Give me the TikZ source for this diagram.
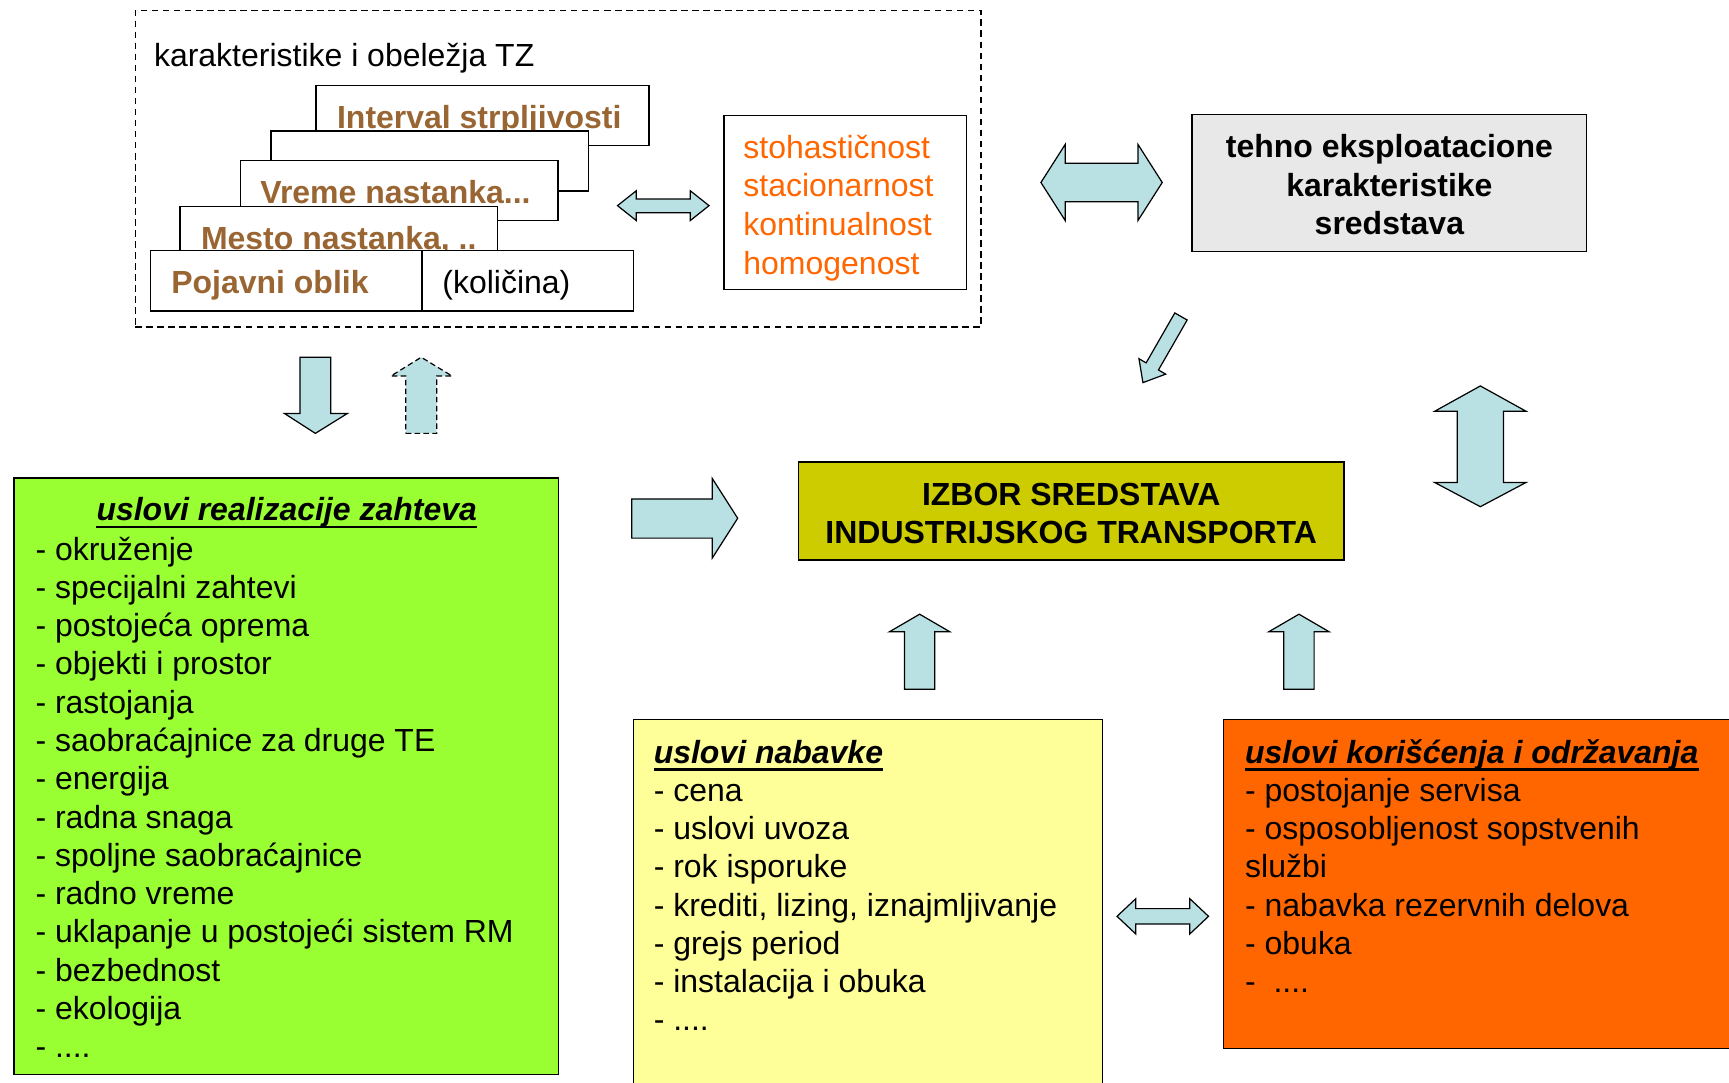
\documentclass[tikz,border=0pt]{standalone}
\usepackage{fontspec}
\setmainfont{Liberation Sans}
\definecolor{ArrowFill}{HTML}{B9E0E3}
\definecolor{ZahtevGreen}{HTML}{99FF33}
\definecolor{NabavkaYellow}{HTML}{FFFF99}
\definecolor{OdrzOrange}{HTML}{FF6600}
\definecolor{IzborOlive}{HTML}{CCCC00}
\definecolor{TehnoGray}{HTML}{E8E8E8}
\definecolor{TzBrown}{HTML}{996633}
\newcommand\diagfont{\fontsize{29}{34.7}\selectfont}
\newcommand\fourdots{....}

\begin{document}
\begin{tikzpicture}[x=1pt,y=-1pt,font=\diagfont,
  box/.style={draw=black,line width=1.3pt,inner sep=0pt,anchor=north west},
  stackbox/.style={box,fill=white,minimum height=54.5pt},
  stacklabel/.style={anchor=west,inner sep=0pt,text height=20.8pt,text depth=0pt,
                     font=\diagfont\bfseries,text=TzBrown},
  item/.style={anchor=base west,inner sep=0pt},
  headline/.style={item,font=\diagfont\bfseries\itshape},
  boldtext/.style={align=center,inner sep=0pt,font=\diagfont\bfseries},
  blockarrow/.style={draw=black,fill=ArrowFill,line width=1.1pt,line join=miter}]
  \useasboundingbox (0,0) rectangle (1568,982);

  % karakteristike i obelezja TZ
  \node[box,dash pattern=on 6pt off 4pt,minimum width=767pt,minimum height=287pt] (tz) at (122,9) {};
  \node[item] (tzT) at (139.5,60) {karakteristike i obeležja TZ};
  \node[stackbox,minimum width=302pt] (interval) at (286,77) {};
  \node[stacklabel] (intervalT) at ([xshift=19.5pt,yshift=-1pt]interval.west) {Interval strpljivosti};
  \node[stackbox,minimum width=288pt] (prazno) at (245,118) {};
  \node[stackbox,minimum width=288pt] (vreme) at (217.5,145) {};
  \node[stacklabel] (vremeT) at ([xshift=18.5pt,yshift=-1pt]vreme.west) {Vreme nastanka...};
  \node[stackbox,minimum width=288pt] (mesto) at (162.6,186.6) {};
  \node[stacklabel] (mestoT) at ([xshift=19.5pt,yshift=-1pt]mesto.west) {Mesto nastanka, ..};
  \node[stackbox,minimum width=246.3pt] (pojavni) at (135.7,226.7) {};
  \node[stackbox,minimum width=192pt] (kolicina) at (382,226.7) {};
  \node[stacklabel] (pojavniT) at ([xshift=19.5pt,yshift=-1pt]pojavni.west) {Pojavni oblik};
  \node[stacklabel,font=\diagfont,text=black] (kolicinaT) at ([xshift=19pt,yshift=-1pt]kolicina.west) {(količina)};

  % osobine
  \node[box,fill=white,minimum width=220pt,minimum height=158pt] (osobine) at (656,104) {};
  \foreach \t [count=\i] in {stohastičnost,stacionarnost,kontinualnost,homogenost}
    \node[item,text=OdrzOrange] (osobina\i) at (674,{143.5+35*(\i-1)}) {\t};

  % tehno box and IZBOR
  \node[box,anchor=center,fill=TehnoGray,minimum width=358pt,minimum height=124pt] (tehno) at (1260,166) {};
  \node[boldtext] (tehnoT) at ([yshift=-1.5pt]tehno.center)
        {tehno eksploatacione\\karakteristike\\sredstava};
  \node[box,anchor=center,fill=IzborOlive,minimum width=495pt,minimum height=89pt] (izbor) at (971.5,463.5) {};
  \node[boldtext] (izborT) at ([yshift=-2pt]izbor.center)
        {IZBOR SREDSTAVA\\INDUSTRIJSKOG TRANSPORTA};

  % uslovi realizacije zahteva
  \node[box,fill=ZahtevGreen,minimum width=494pt,minimum height=541pt] (zahtev) at (12,433) {};
  \node[headline,anchor=base] (zahtevT) at (260,472) {uslovi realizacije zahteva};
  \foreach \t [count=\i] in {- okruženje,- specijalni zahtevi,- postojeća oprema,
      - objekti i prostor,- rastojanja,- saobraćajnice za druge TE,- energija,
      - radna snaga,- spoljne saobraćajnice,- radno vreme,
      - uklapanje u postojeći sistem RM,- bezbednost,- ekologija,- \fourdots}
    \node[item] (zahtev\i) at (32,{508+34.7*(\i-1)}) {\t};

  % uslovi nabavke
  \node[box,fill=NabavkaYellow,minimum width=425pt,minimum height=345pt] (nabavka) at (574,652) {};
  \node[headline] (nabavkaT) at (592.7,692) {uslovi nabavke};
  \foreach \t [count=\i] in {- cena,- uslovi uvoza,- rok isporuke,
      {- krediti, lizing, iznajmljivanje},- grejs period,- instalacija i obuka,- \fourdots}
    \node[item] (nabavka\i) at (592.7,{727+34.6*(\i-1)}) {\t};

  % uslovi koriscenja i odrzavanja
  \node[box,fill=OdrzOrange,minimum width=475pt,minimum height=298pt] (odrzavanje) at (1109,652) {};
  \node[headline] (odrzavanjeT) at (1129,692) {uslovi korišćenja i održavanja};
  \foreach \t [count=\i] in {- postojanje servisa,- osposobljenost sopstvenih,službi,
      - nabavka rezervnih delova,- obuka,-\ \ \fourdots}
    \node[item] (odrzavanje\i) at (1129,{727+34.6*(\i-1)}) {\t};

  \foreach \n in {zahtevT,nabavkaT,odrzavanjeT}
    \draw[line width=2.2pt] ([yshift=-6pt]\n.base west) -- ([yshift=-6pt]\n.base east);

  % block arrows
  \draw[blockarrow] (272,324) -- (300,324) -- (300,375) -- (315,375) -- (286,393)
    -- (258,375) -- (272,375) -- cycle;
  \draw[blockarrow,dash pattern=on 5pt off 3pt] (368,393) -- (396,393) -- (396,341)
    -- (410,341) -- (382,324) -- (354.5,341) -- (368,341) -- cycle;
  \draw[blockarrow] (573,452.5) -- (646,452.5) -- (646,434) -- (669,470) -- (646,506)
    -- (646,488) -- (573,488) -- cycle;
  \foreach \cx in {834,1178}
    \draw[blockarrow] (\cx-13.75,625) -- (\cx+13.75,625) -- (\cx+13.75,573) -- (\cx+27.5,573)
      -- (\cx,557) -- (\cx-27.5,573) -- (\cx-13.75,573) -- cycle;
  % double arrows
  \draw[blockarrow] (944,165.5) -- (966,131) -- (966,148) -- (1032,148) -- (1032,131)
    -- (1054,165.5) -- (1032,200) -- (1032,183) -- (966,183) -- (966,200) -- cycle;
  \draw[blockarrow] (1342.5,350) -- (1384,373) -- (1363.5,373) -- (1363.5,437.5)
    -- (1384,437.5) -- (1342.5,459.5) -- (1301,437.5) -- (1321.5,437.5)
    -- (1321.5,373) -- (1301,373) -- cycle;
  \draw[blockarrow] (560,186.5) -- (577,173) -- (577,180.5) -- (626,180.5) -- (626,173)
    -- (643,186.5) -- (626,200) -- (626,193) -- (577,193) -- (577,200) -- cycle;
  \draw[blockarrow] (1013,831) -- (1030,815) -- (1030,824) -- (1079,824) -- (1079,815)
    -- (1096,831) -- (1079,847) -- (1079,838) -- (1030,838) -- (1030,847) -- cycle;
  % slanted arrow
  \draw[blockarrow] (1065.4,283.8) -- (1076.6,290.2) -- (1050.6,335.5) -- (1057.1,339.3)
    -- (1036.5,347) -- (1032.9,325.3) -- (1039.4,329.1) -- cycle;
\end{tikzpicture}
\end{document}
